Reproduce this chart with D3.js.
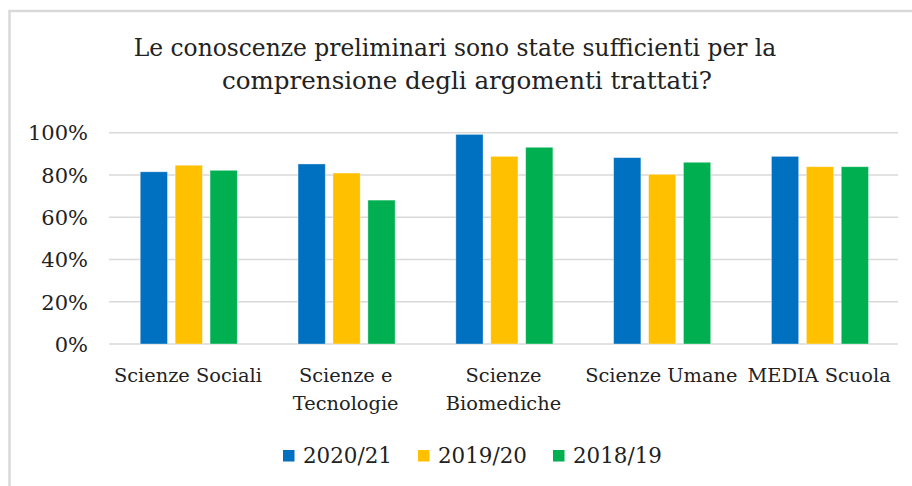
<!DOCTYPE html>
<html>
<head>
<meta charset="utf-8">
<title>Conoscenze preliminari</title>
<script src="https://cdn.jsdelivr.net/npm/d3@7"></script>
<style>
  body { margin: 0; background: #fff; }
  svg text { font-family: "DejaVu Serif", "Liberation Serif", serif; fill: #222; }
</style>
</head>
<body>
<svg id="chart" width="912" height="486"></svg>
<script>
// data
var categories = [["Scienze Sociali"], ["Scienze e", "Tecnologie"], ["Scienze", "Biomediche"], ["Scienze Umane"], ["MEDIA Scuola"]];
var series = ["2020/21", "2019/20", "2018/19"];
var colors = ["#0070C0", "#FFC000", "#00B050"];
var v2021 = [0.815, 0.852, 0.992, 0.882, 0.888];
var v1920 = [0.846, 0.809, 0.888, 0.803, 0.839];
var v1819 = [0.822, 0.681, 0.931, 0.860, 0.839];
var yTicks = [0, 0.2, 0.4, 0.6, 0.8, 1.0];
var titleLines = ["Le conoscenze preliminari sono state sufficienti per la", "comprensione degli argomenti trattati?"];

var values = [v2021, v1920, v1819];
var svg = d3.select("#chart");

// scale a text's font-size so that it spans a given width
function fit(sel, w) {
  var len = sel.node().getComputedTextLength();
  var fs = parseFloat(sel.attr("font-size"));
  sel.attr("font-size", (fs * w / len).toFixed(2));
  return fs * w / len;
}

// chart frame
svg.append("rect")
  .attr("x", 9.5).attr("y", 11)
  .attr("width", 940).attr("height", 520)
  .attr("fill", "#fff")
  .attr("stroke", "#d9d9d9")
  .attr("stroke-width", 2.5);

var plotLeft = 109, plotRight = 898, plotTop = 132.7, plotBottom = 344;

var x0 = d3.scaleBand().domain(d3.range(categories.length)).range([plotLeft, plotRight]);
var x1 = d3.scaleBand().domain(d3.range(series.length))
  .range([x0.bandwidth() * 0.198, x0.bandwidth() * 0.813]).paddingInner(0.22);
var y = d3.scaleLinear().domain([0, 1]).range([plotBottom, plotTop]);

// gridlines
svg.append("g").selectAll("line")
  .data(yTicks)
  .enter().append("line")
    .attr("x1", plotLeft).attr("x2", plotRight)
    .attr("y1", function(d) { return y(d); })
    .attr("y2", function(d) { return y(d); })
    .attr("stroke", "#d9d9d9")
    .attr("stroke-width", 1.5);

// y axis labels
svg.append("g").selectAll("text")
  .data(yTicks)
  .enter().append("text")
    .attr("x", 88)
    .attr("y", function(d) { return y(d); })
    .attr("dy", "0.37em")
    .attr("text-anchor", "end")
    .attr("font-size", 21)
    .text(d3.format(".0%"));

// bars
var groups = svg.append("g").selectAll("g")
  .data(categories)
  .enter().append("g")
    .attr("transform", function(d, i) { return "translate(" + x0(i) + ",0)"; });

groups.selectAll("rect")
  .data(function(d, i) { return series.map(function(s, j) { return { s: j, v: values[j][i] }; }); })
  .enter().append("rect")
    .attr("x", function(d) { return x1(d.s); })
    .attr("width", x1.bandwidth())
    .attr("y", function(d) { return y(d.v); })
    .attr("height", function(d) { return y(0) - y(d.v); })
    .attr("fill", function(d) { return colors[d.s]; })
    .attr("stroke", "#fff")
    .attr("stroke-opacity", 0.45)
    .attr("stroke-width", 0.8);

// category labels
var probe = svg.append("text").attr("font-size", 20).text("Scienze Sociali");
var catSize = fit(probe, 148);
probe.remove();

groups.append("text")
  .attr("x", x0.bandwidth() / 2)
  .attr("text-anchor", "middle")
  .attr("font-size", catSize)
  .selectAll("tspan")
  .data(function(d) { return d; })
  .enter().append("tspan")
    .attr("x", x0.bandwidth() / 2)
    .attr("y", function(d, i) { return 382 + i * 28; })
    .text(function(d) { return d; });

// title
svg.append("g").selectAll("text")
  .data(titleLines)
  .enter().append("text")
    .attr("x", function(d, i) { return i ? 467 : 455; })
    .attr("y", function(d, i) { return 56 + i * 33; })
    .attr("text-anchor", "middle")
    .attr("font-size", 24)
    .text(function(d) { return d; })
    .each(function(d, i) { fit(d3.select(this), i ? 490 : 643); });

// legend
var legend = svg.append("g").selectAll("g")
  .data(series)
  .enter().append("g")
    .attr("transform", function(d, i) { return "translate(" + (283 + i * 135) + ",0)"; });

legend.append("rect")
  .attr("x", 0).attr("y", 450)
  .attr("width", 11.5).attr("height", 11.5)
  .attr("fill", function(d, i) { return colors[i]; });

legend.append("text")
  .attr("x", 20).attr("y", 463)
  .attr("font-size", 22)
  .text(function(d) { return d; })
  .each(function() { fit(d3.select(this), 89); });
</script>
</body>
</html>
